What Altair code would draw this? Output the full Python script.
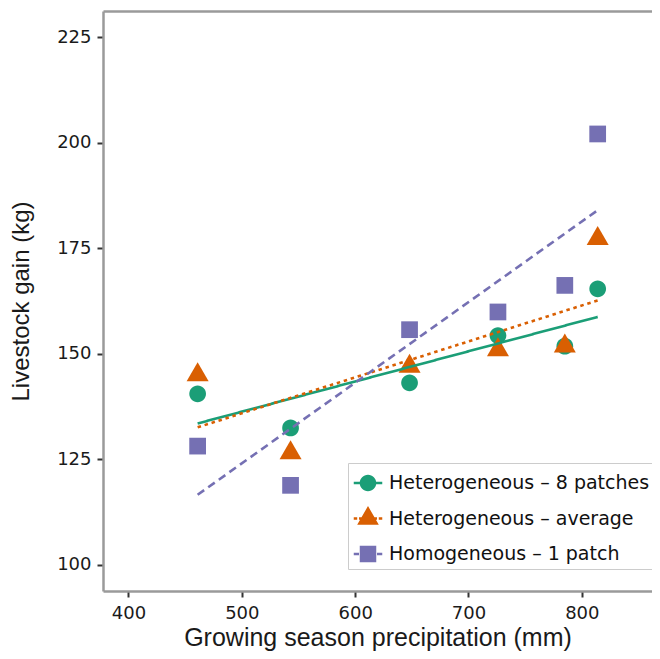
import altair as alt
import pandas as pd

# ---- data ----
groups = ["Heterogeneous – 8 patches", "Heterogeneous – average", "Homogeneous – 1 patch"]
precip = [461, 543, 648, 726, 785, 814]
gain_het8 = [140.5, 132.4, 143.1, 154.3, 151.8, 165.4]
gain_avg = [145.0, 126.5, 147.0, 150.9, 151.8, 177.3]
gain_hom = [128.1, 118.8, 155.7, 159.9, 166.2, 202.1]
colors = ["#1B9E77", "#D95F02", "#7570B3"]
x_ticks = [400, 500, 600, 700, 800]
y_ticks = [100, 125, 150, 175, 200, 225]

rows = []
for g, vals in zip(groups, [gain_het8, gain_avg, gain_hom]):
    for p, v in zip(precip, vals):
        rows.append({"group": g, "precip": p, "gain": v})
df = pd.DataFrame(rows)

# plot marker shapes (unit = sqrt(size)/2)
plot_shapes = [
    "M0.76,0A0.76,0.76,0,1,1,-0.76,0A0.76,0.76,0,1,1,0.76,0Z",
    "M0,-1.15L1,0.58L-1,0.58Z",
    "M-0.76,-0.76H0.76V0.76H-0.76Z",
]
dashes = [[1, 0], [3.5, 3.8], [8, 5]]

# legend key symbols: marker plus line pieces
h = 0.087
def seg(a, b):
    return f"M{a},{-h}H{b}V{h}H{a}Z"
legend_shapes = [
    "M0.55,0A0.55,0.55,0,1,1,-0.55,0A0.55,0.55,0,1,1,0.55,0Z" + seg(-0.95, -0.54) + seg(0.54, 0.95),
    "M0,-0.83L0.72,0.42L-0.72,0.42Z" + seg(-0.95, -0.72) + seg(-0.6, -0.4) + seg(0.4, 0.6) + seg(0.72, 0.95),
    "M-0.55,-0.55H0.55V0.55H-0.55Z" + seg(-0.95, -0.6) + seg(0.6, 0.95),
]

W = 549
PX_PER_UNIT = 1.1333
xscale = alt.Scale(domain=[377.5, 377.5 + W / PX_PER_UNIT], nice=False, zero=False)
yscale = alt.Scale(domain=[93.75, 231.25], nice=False, zero=False)
cscale = alt.Scale(domain=groups, range=colors)

border = dict(domain=True, domainColor="#9a9a9a", domainWidth=2.5)

xenc = alt.X("precip:Q", scale=xscale, title="Growing season precipitation (mm)",
             axis=alt.Axis(values=x_ticks, orient="bottom", **border))
yenc = alt.Y("gain:Q", scale=yscale, title="Livestock gain (kg)",
             axis=alt.Axis(values=y_ticks, **border))

legend_props = dict(
    title=None, orient="none", legendX=245, legendY=452,
    strokeColor="#cccccc", fillColor="white", padding=5,
    symbolSize=900, rowPadding=10.5, labelOffset=6,
    labelFont="DejaVu Sans", labelFontSize=19, labelColor="#111111",
    labelLimit=0, symbolStrokeWidth=0, symbolOpacity=1,
)

points = alt.Chart(df).mark_point(filled=True, opacity=1, size=484).encode(
    x=xenc,
    y=yenc,
    color=alt.Color("group:N", scale=cscale, legend=None),
    shape=alt.Shape("group:N", scale=alt.Scale(domain=groups, range=plot_shapes), legend=None),
)

lines = alt.Chart(df).transform_regression(
    "precip", "gain", groupby=["group"]
).mark_line(strokeWidth=2.6).encode(
    x=alt.X("precip:Q", scale=xscale,
            axis=alt.Axis(orient="top", labels=False, ticks=False, title=None, **border)),
    y=alt.Y("gain:Q", scale=yscale),
    color=alt.Color("group:N", scale=cscale, legend=None),
    strokeDash=alt.StrokeDash("group:N", scale=alt.Scale(domain=groups, range=dashes), legend=None),
)

# legend carrier: no marks drawn, only the legend (keys with line + marker)
legend_layer = alt.Chart(df).transform_filter(
    "datum.precip < 0"
).mark_point(filled=True, opacity=1, size=900).encode(
    color=alt.Color("group:N", scale=cscale, legend=alt.Legend(**legend_props)),
    shape=alt.Shape("group:N", scale=alt.Scale(domain=groups, range=legend_shapes),
                    legend=alt.Legend(**legend_props)),
)

chart = alt.layer(points, lines, legend_layer).resolve_scale(
    shape="independent", color="independent", strokeDash="independent"
).resolve_axis(
    x="independent"
).properties(
    width=W,
    height=580,
    padding={"left": 95, "top": 3, "right": 0, "bottom": 60},
    autosize=alt.AutoSizeParams(type="none"),
    background="white",
).configure_view(
    stroke=None
).configure_axis(
    grid=False,
    tickSize=6, tickWidth=2, tickColor="#333333",
    labelFont="DejaVu Sans", labelFontSize=18, labelColor="#1a1a1a",
    titleFont="Liberation Sans", titleFontWeight="normal", titleColor="#1a1a1a",
).configure_axisX(
    labelPadding=7, titleFontSize=25, titlePadding=3,
).configure_axisY(
    labelPadding=6, titleFontSize=24, titlePadding=23.5,
)

chart.save("out.html", embed_options={"renderer": "svg", "actions": False})
